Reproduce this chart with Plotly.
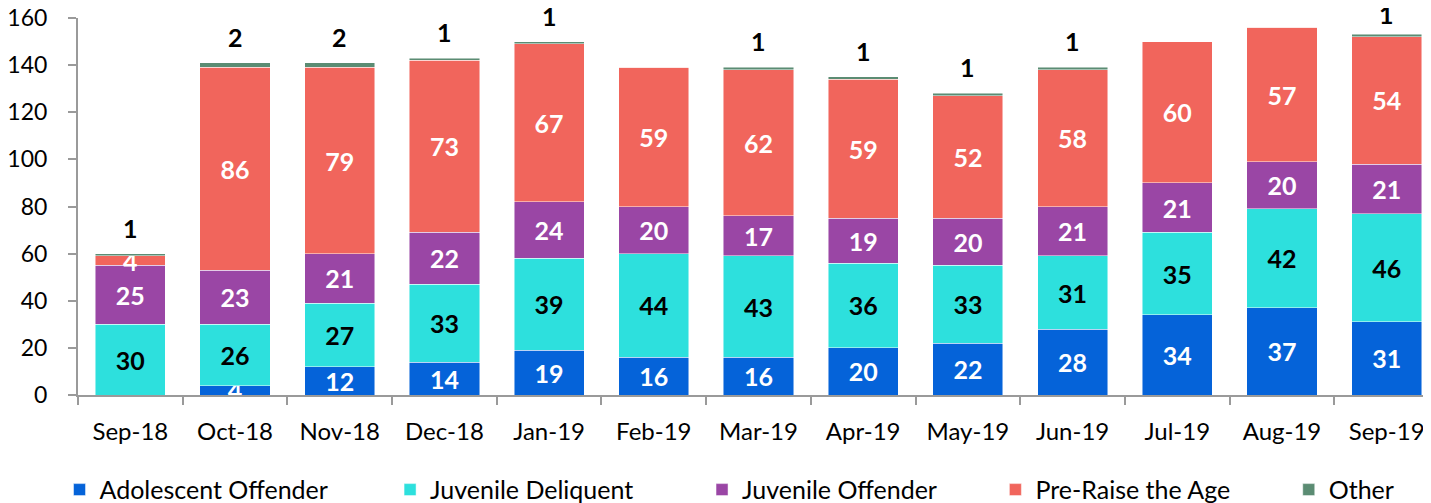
import plotly.graph_objects as go

months = ["Sep-18", "Oct-18", "Nov-18", "Dec-18", "Jan-19", "Feb-19", "Mar-19",
          "Apr-19", "May-19", "Jun-19", "Jul-19", "Aug-19", "Sep-19"]

adolescent_offender = [0, 4, 12, 14, 19, 16, 16, 20, 22, 28, 34, 37, 31]
juvenile_deliquent = [30, 26, 27, 33, 39, 44, 43, 36, 33, 31, 35, 42, 46]
juvenile_offender = [25, 23, 21, 22, 24, 20, 17, 19, 20, 21, 21, 20, 21]
pre_raise_the_age = [4, 86, 79, 73, 67, 59, 62, 59, 52, 58, 60, 57, 54]
other = [1, 2, 2, 1, 1, 0, 1, 1, 1, 1, 0, 0, 1]

series = [
    ("Adolescent Offender", adolescent_offender, "#0563D9", "white"),
    ("Juvenile Deliquent", juvenile_deliquent, "#2DE0DD", "black"),
    ("Juvenile Offender", juvenile_offender, "#9A46A5", "white"),
    ("Pre-Raise the Age", pre_raise_the_age, "#F1655C", "white"),
]

FONT = "Lato"
# one legend per series so the entries can be spread like the original
legend_x = [0.036, 0.267, 0.485, 0.690, 0.895]
legend_ids = ["legend2", "legend3", "legend4", "legend5", "legend6"]

fig = go.Figure()
for i, (name, vals, color, txtcol) in enumerate(series):
    fig.add_trace(go.Bar(
        x=months, y=vals, name=name, legend=legend_ids[i],
        marker=dict(color=color, line=dict(color="rgba(255,255,255,0.6)", width=0.8)),
        text=[str(v) if v else "" for v in vals],
        textposition="inside", insidetextanchor="middle", textangle=0,
        textfont=dict(family=FONT, size=25, color=txtcol, weight="bold"),
        cliponaxis=False,
    ))

# "Other" is a thin sliver on top; its value is written above the bar
fig.add_trace(go.Bar(
    x=months, y=other, name="Other", legend=legend_ids[4],
    marker=dict(color="#5B8C73", line=dict(color="rgba(255,255,255,0.6)", width=0.8)),
    textposition="none",
))

totals = [a + b + c + d + e for a, b, c, d, e in zip(adolescent_offender, juvenile_deliquent,
                                                     juvenile_offender, pre_raise_the_age, other)]
for m, t, o in zip(months, totals, other):
    if o:
        # labels near the top of the axis are nudged down so they stay on the page
        fig.add_annotation(x=m, y=t, text=str(o), showarrow=False, yanchor="bottom",
                           yshift=9 if t <= 150 else 3,
                           font=dict(family=FONT, size=25, color="black", weight="bold"))

legend_style = dict(orientation="h", xref="container", yref="container", xanchor="left",
                    y=0.042, yanchor="middle", font=dict(family=FONT, size=25),
                    itemwidth=30, bgcolor="rgba(0,0,0,0)")

fig.update_layout(
    barmode="stack",
    bargap=0.33,
    width=1431, height=503,
    margin=dict(l=70, r=0, t=10, b=116),
    plot_bgcolor="white", paper_bgcolor="white",
    font=dict(family=FONT, color="black"),
    uniformtext=dict(mode="show", minsize=25),
    **{lid: dict(legend_style, x=lx) for lid, lx in zip(legend_ids, legend_x)},
)
fig.update_xaxes(
    range=[-0.5, 12.5], automargin=False,
    showline=True, linecolor="#9a9a9a", linewidth=2,
    ticks="outside", tickson="boundaries", ticklen=8, tickcolor="#9a9a9a", tickwidth=2,
    tickfont=dict(family=FONT, size=24), ticklabelstandoff=14, showgrid=False,
)
fig.update_yaxes(
    range=[0, 160], dtick=20, automargin=False, ticklabeloverflow="allow",
    showline=True, linecolor="#9a9a9a", linewidth=2,
    ticks="outside", ticklen=8, tickcolor="#9a9a9a", tickwidth=2,
    tickfont=dict(family=FONT, size=23), ticklabelstandoff=16,
    showgrid=False, zeroline=False,
)

fig.write_html("out.html")
